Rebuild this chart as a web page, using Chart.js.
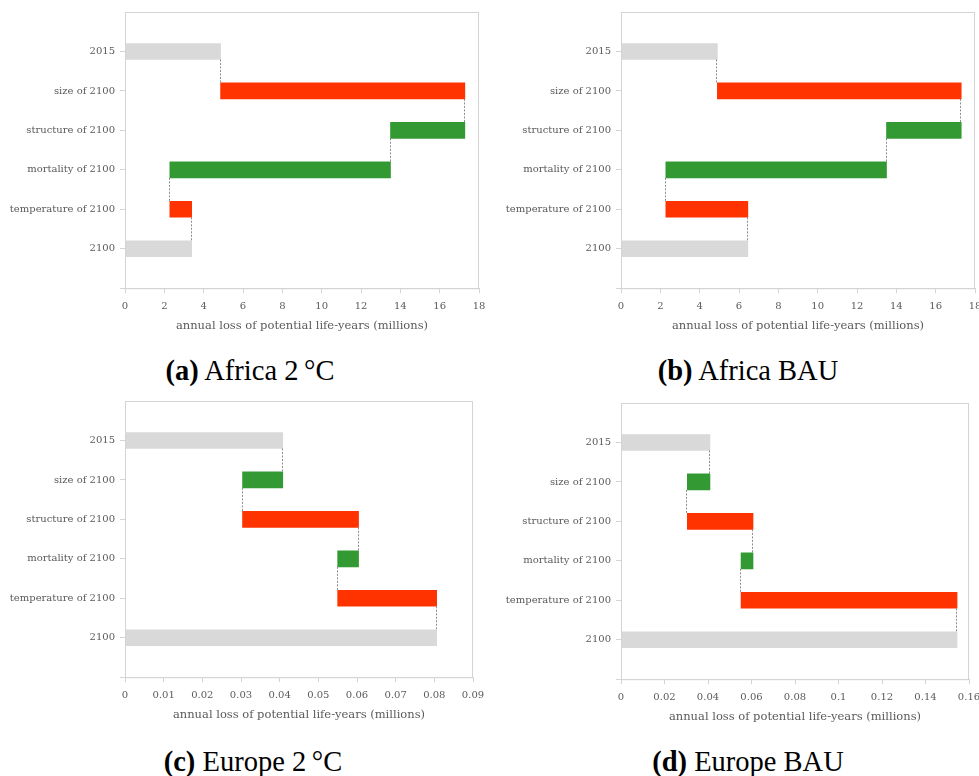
<!DOCTYPE html>
<html>
<head>
<meta charset="utf-8">
<script src="https://cdn.jsdelivr.net/npm/chart.js@4.4.1/dist/chart.umd.min.js"></script>
<style>
  body { margin: 0; background: #fff; width: 979px; height: 776px; overflow: hidden; position: relative; }
  .box { position: absolute; }
  .cap { position: absolute; font-family: "Liberation Serif", serif; font-size: 28.5px; color: #000; text-align: center; width: 490px; }
  .cap b { font-weight: bold; }
</style>
</head>
<body>
<div class="box" style="left:0;top:0;width:490px;height:335px"><canvas id="chartA"></canvas></div>
<div class="box" style="left:496px;top:0;width:490px;height:335px"><canvas id="chartB"></canvas></div>
<div class="box" style="left:0;top:390px;width:484px;height:334px"><canvas id="chartC"></canvas></div>
<div class="box" style="left:496px;top:391px;width:484px;height:335px"><canvas id="chartD"></canvas></div>
<div class="cap" style="left:5px;top:355px"><b>(a)</b> Africa 2&#8201;°C</div>
<div class="cap" style="left:503px;top:355px"><b>(b)</b> Africa BAU</div>
<div class="cap" style="left:8px;top:746px"><b>(c)</b> Europe 2&#8201;°C</div>
<div class="cap" style="left:503px;top:746px"><b>(d)</b> Europe BAU</div>
<script>
// steps of the decomposition, top to bottom
var categories = ["2015", "size of 2100", "structure of 2100", "mortality of 2100", "temperature of 2100", "2100"];

// running level after each step: 2015, +size, +structure, +mortality, +temperature
var africa2C  = [4.86, 17.28, 13.5, 2.28, 3.39];
var africaBAU = [4.9, 17.3, 13.5, 2.28, 6.45];
var europe2C  = [0.0408, 0.0304, 0.0604, 0.055, 0.0806];
var europeBAU = [0.0409, 0.0305, 0.0607, 0.0552, 0.1545];

// x axis ticks: [max, step]
var ticksA = [18, 2];
var ticksB = [18, 2];
var ticksC = [0.09, 0.01];
var ticksD = [0.16, 0.02];

var GREY = "#d9d9d9", RED = "#ff3300", GREEN = "#339933";
var LINE = "#d4d4d4", TEXT = "#5a5a5a";
var tickFont = { family: "DejaVu Serif", size: 10 };
var titleFont = { family: "DejaVu Serif", size: 11.5 };

// frame round the plot area
var frame = {
  id: "frame",
  afterDraw: function (chart) {
    var a = chart.chartArea, c = chart.ctx;
    c.save();
    c.strokeStyle = LINE;
    c.lineWidth = 1;
    c.strokeRect(a.left + 0.5, a.top + 0.5, a.right - a.left - 1, a.bottom - a.top);
    c.restore();
  }
};

// dashed connectors between consecutive bars
var connectors = {
  id: "connectors",
  afterDatasetsDraw: function (chart) {
    var levels = chart.options.plugins.connectors.levels;
    var bars = chart.getDatasetMeta(0).data;
    var xs = chart.scales.x, c = chart.ctx;
    c.save();
    c.strokeStyle = "#8c8c8c";
    c.lineWidth = 1;
    c.setLineDash([2, 1.5]);
    for (var i = 0; i < levels.length; i++) {
      var b1 = bars[i + 1], b2 = bars[i + 2];
      var x = Math.round(xs.getPixelForValue(levels[i])) - 0.5;
      c.beginPath();
      c.moveTo(x, b1.y + b1.height / 2);
      c.lineTo(x, b2.y - b2.height / 2);
      c.stroke();
    }
    c.restore();
  }
};

function makeChart(id, levels, ticks, padTop) {
  var bars = [null, [0, levels[0]]];
  var colors = [null, GREY];
  for (var i = 1; i < levels.length; i++) {
    bars.push([levels[i - 1], levels[i]]);
    colors.push(levels[i] > levels[i - 1] ? RED : GREEN);
  }
  bars.push([0, levels[levels.length - 1]], null);
  colors.push(GREY, null);

  return new Chart(document.getElementById(id), {
    type: "bar",
    data: {
      labels: [""].concat(categories, [""]),
      datasets: [{
        data: bars,
        backgroundColor: colors,
        borderWidth: 0,
        barThickness: 16
      }]
    },
    options: {
      indexAxis: "y",
      responsive: true,
      maintainAspectRatio: false,
      animation: false,
      layout: { padding: { top: padTop, right: 11, bottom: 0, left: 0 } },
      plugins: {
        legend: { display: false },
        tooltip: { enabled: false },
        connectors: { levels: levels }
      },
      scales: {
        y: {
          type: "category",
          offset: false,
          afterFit: function (s) { s.width = 125; },
          grid: {
            offset: false,
            drawOnChartArea: false,
            tickLength: 5,
            tickColor: function (ctx) { return ctx.index === 0 ? "rgba(0,0,0,0)" : LINE; }
          },
          border: { color: LINE },
          ticks: { color: TEXT, font: tickFont, padding: 5, autoSkip: false }
        },
        x: {
          min: 0,
          max: ticks[0],
          afterFit: function (s) { s.paddingLeft = 0; s.paddingRight = 0; },
          grid: { drawOnChartArea: false, tickLength: 5, tickColor: LINE },
          border: { color: LINE },
          ticks: {
            stepSize: ticks[1],
            color: TEXT,
            font: tickFont,
            padding: 7,
            maxRotation: 0,
            callback: function (v) { return String(+v.toFixed(4)); }
          },
          title: {
            display: true,
            text: "annual loss of potential life-years (millions)",
            color: TEXT,
            font: titleFont,
            padding: { top: 0, bottom: 2 }
          }
        }
      }
    },
    plugins: [frame, connectors]
  });
}

makeChart("chartA", africa2C, ticksA, 12);
makeChart("chartB", africaBAU, ticksB, 12);
makeChart("chartC", europe2C, ticksC, 11);
makeChart("chartD", europeBAU, ticksD, 12);
</script>
</body>
</html>
